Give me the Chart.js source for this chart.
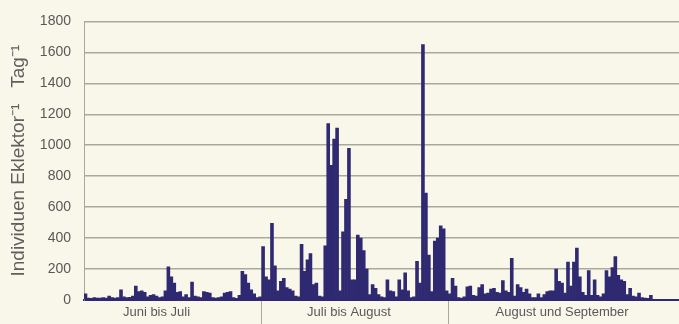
<!DOCTYPE html>
<html>
<head>
<meta charset="utf-8">
<script src="https://cdn.jsdelivr.net/npm/chart.js@4.4.1/dist/chart.umd.min.js"></script>
<style>
  html, body { margin: 0; padding: 0; background: #f9f7ea; }
  #wrap { width: 679px; height: 324px; position: relative; }
</style>
</head>
<body>
<div id="wrap"><canvas id="c" width="679" height="324"></canvas></div>
<script>
// Sampling periods (category groups) and the day within each group that carries its label
const periods = ['Juni bis Juli', 'Juli bis August', 'August und September'];
const labelDay = [24, 29, 38];

// Daily catches (individuals per eclector per day) for each period
const juniJuli = [
  40, 12, 10, 15, 12, 12, 15, 12, 25, 15,
  12, 15, 65, 20, 15, 18, 25, 90, 55, 60,
  50, 20, 30, 35, 25, 15, 20, 60, 215, 150,
  110, 50, 55, 20, 35, 15, 115, 25, 20, 15,
  55, 50, 45, 15, 12, 15, 20, 45, 50, 55,
  15, 10, 30, 185, 165, 110, 65, 40, 15, 20
];
const juliAugust = [
  345, 150, 130, 495, 220, 60, 120, 140, 80, 70,
  60, 25, 20, 360, 185, 260, 300, 100, 110, 25,
  20, 350, 1140, 870, 1040, 1110, 60, 440, 650, 980,
  130, 130, 420, 400, 320, 200, 35, 100, 75, 35,
  20, 15, 130, 60, 55, 20, 130, 65, 175, 60,
  15, 20, 250, 110, 1650, 690, 290, 55, 380, 400,
  480, 460, 60
];
const augustSeptember = [
  40, 140, 90, 15, 12, 20, 85, 90, 30, 25,
  80, 100, 40, 45, 70, 75, 50, 45, 125, 60,
  50, 270, 25, 100, 80, 50, 70, 40, 15, 15,
  40, 15, 35, 55, 60, 60, 200, 120, 110, 45,
  245, 90, 245, 335, 150, 50, 30, 190, 30, 130,
  30, 20, 40, 190, 150, 210, 280, 160, 130, 120,
  35, 75, 25, 20, 45, 15, 12, 10, 30, 0,
  0, 0, 0, 0, 0, 0, 0, 0
];

// Y axis range and tick step
const yMin = 0, yMax = 1800, yStep = 200;

const series = [juniJuli, juliAugust, augustSeptember];
const values = [].concat(...series);

// One category per day; only one day per period shows the period name
const labels = [];
const boundaries = new Set();
series.forEach((s, g) => {
  boundaries.add(labels.length);
  s.forEach((_, d) => labels.push(d === labelDay[g] ? periods[g] : ''));
});
boundaries.delete(0);

const barColor = '#2f2972';
const gridColor = '#aba89c';
const textColor = '#595959';

new Chart(document.getElementById('c'), {
  type: 'bar',
  data: {
    labels: labels,
    datasets: [{
      data: values,
      backgroundColor: barColor,
      borderWidth: 0,
      barPercentage: 1,
      categoryPercentage: 1
    }]
  },
  options: {
    responsive: false,
    animation: false,
    devicePixelRatio: 1,
    layout: { padding: { top: 19, right: 0, bottom: 0, left: 0 } },
    plugins: { legend: { display: false }, tooltip: { enabled: false } },
    scales: {
      x: {
        type: 'category',
        offset: true,
        grid: {
          display: true,
          drawOnChartArea: false,
          drawTicks: true,
          tickLength: 24,
          lineWidth: 1,
          color: (ctx) => boundaries.has(ctx.index) ? gridColor : 'rgba(0,0,0,0)'
        },
        border: { display: true, color: barColor, width: 2 },
        ticks: {
          autoSkip: false,
          maxRotation: 0,
          minRotation: 0,
          padding: -19,
          color: textColor,
          font: { family: 'Liberation Sans', size: 13 }
        },
        afterFit: (scale) => { scale.height = 24; }
      },
      y: {
        min: yMin,
        max: yMax,
        grid: { color: gridColor, lineWidth: 1.5, drawTicks: false },
        border: { display: true, color: gridColor, width: 1 },
        ticks: {
          stepSize: yStep,
          padding: 13,
          color: textColor,
          font: { family: 'Liberation Sans', size: 14 },
          callback: (v) => String(v)
        },
        title: {
          display: true,
          text: 'Individuen Eklektor\u207B\u00B9   Tag\u207B\u00B9',
          color: '#5f5f5f',
          padding: { top: 7, bottom: 0 },
          font: { family: 'Liberation Sans', size: 19 }
        },
        afterFit: (scale) => { scale.width = 84; }
      }
    }
  }
});
</script>
</body>
</html>
